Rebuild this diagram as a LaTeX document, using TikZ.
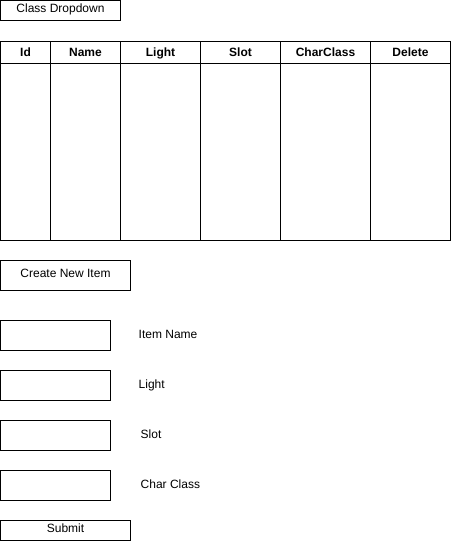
\documentclass[tikz,border=0pt]{standalone}
\usepackage{fontspec}
\setmainfont{Liberation Sans}
\usetikzlibrary{positioning}
\tikzset{
    box/.style={rectangle, draw=black, line width=1pt, anchor=north west, inner sep=0pt, outer sep=0pt, font=\fontsize{12}{14}\selectfont},
    button/.style={box, text height=8.6pt, text depth=5pt},
    head/.style={box, minimum height=22pt, text height=8.6pt, text depth=0pt, font=\bfseries\fontsize{12}{14}\selectfont},
    column/.style={box, minimum height=177pt},
    field/.style={box, minimum width=110pt, minimum height=30pt},
    caption/.style={inner sep=0pt, text height=8.6pt, text depth=2pt, font=\fontsize{12}{14}\selectfont},
}

\begin{document}
\begin{tikzpicture}[x=1pt, y=-1pt]
        \useasboundingbox (-0.5,-0.5) rectangle (451.5,540.5);

        \node[button, minimum width=120pt, minimum height=20pt] (dropdown) at (0,0) {Class Dropdown};

        % table
        \foreach \x/\w/\name in {0/50/Id, 50/70/Name, 120/80/Light, 200/80/Slot, 280/90/CharClass, 370/80/Delete}{
            \node[head, minimum width=\w pt] (head\name) at (\x,41) {\name};
            \node[column, minimum width=\w pt] (col\name) at (\x,63) {};
        }

        \node[button, minimum width=130pt, minimum height=30pt, below=20pt of colId.south west, anchor=north west] (create) {Create New Item};

        % form
        \node[field, below=30pt of create.south west, anchor=north west] (fieldname) {};
        \node[field, below=20pt of fieldname.south west, anchor=north west] (fieldlight) {};
        \node[field, below=20pt of fieldlight.south west, anchor=north west] (fieldslot) {};
        \node[field, below=20pt of fieldslot.south west, anchor=north west] (fieldclass) {};

        \node[caption, right=28pt of fieldname, anchor=west] (labelname) {Item Name};
        \node[caption, right=28pt of fieldlight, anchor=west] (labellight) {Light};
        \node[caption, right=30pt of fieldslot, anchor=west] (labelslot) {Slot};
        \node[caption, right=30pt of fieldclass, anchor=west] (labelclass) {Char Class};

        \node[button, minimum width=130pt, minimum height=20pt, below=20pt of fieldclass.south west, anchor=north west] (submit) {Submit};

    \end{tikzpicture}
\end{document}
